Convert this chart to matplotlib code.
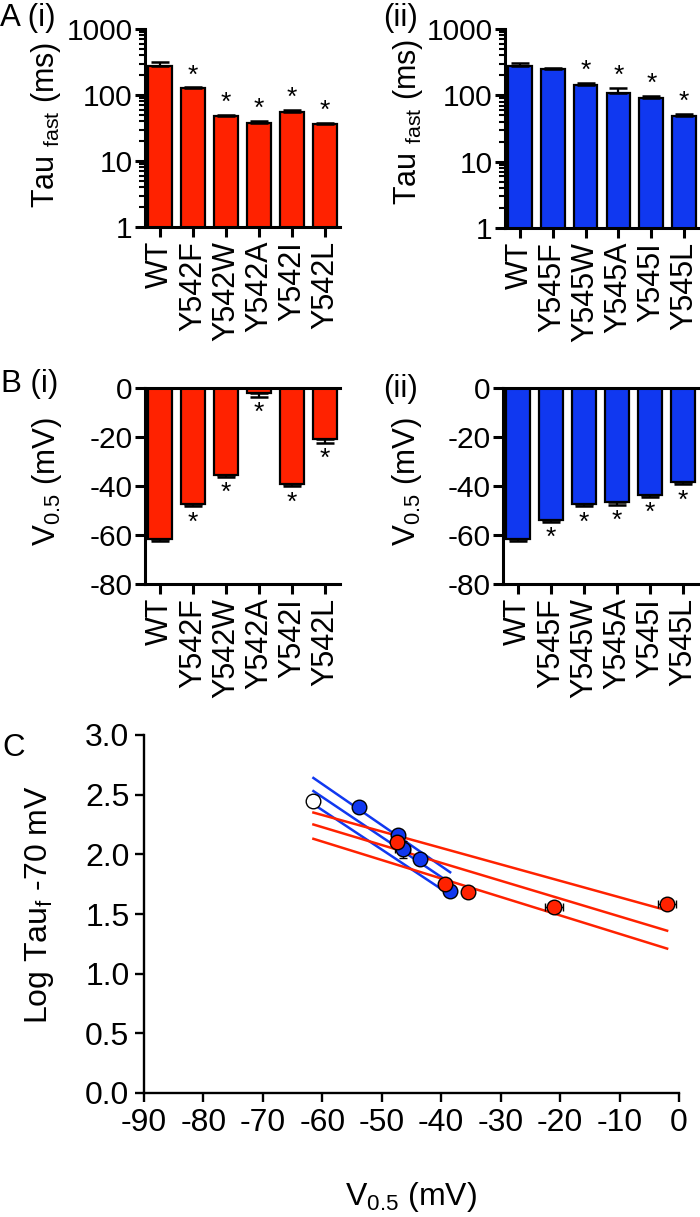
import numpy as np
import matplotlib
matplotlib.use('Agg')
import matplotlib.pyplot as plt

plt.rcParams['font.family'] = ['Liberation Sans', 'DejaVu Sans']
plt.rcParams['mathtext.fontset'] = 'custom'
plt.rcParams['mathtext.rm'] = 'Liberation Sans'
plt.rcParams['mathtext.it'] = 'Liberation Sans:italic'
plt.rcParams['mathtext.default'] = 'regular'
plt.rcParams['axes.unicode_minus'] = False

# ---------------- data ----------------
red_labels = ['WT', 'Y542F', 'Y542W', 'Y542A', 'Y542I', 'Y542L']
blue_labels = ['WT', 'Y545F', 'Y545W', 'Y545A', 'Y545I', 'Y545L']

red_tau = [278, 126, 48, 38, 56, 36]
red_tau_err = [40, 4, 2, 2, 3, 2]
blue_tau = [278, 248, 145, 110, 92, 49]
blue_tau_err = [30, 10, 10, 20, 5, 4]
red_tau_sig = [0, 1, 1, 1, 1, 1]
blue_tau_sig = [0, 0, 1, 1, 1, 1]

red_v05 = [-61.5, -47.5, -35.5, -2.0, -39.3, -21.0]
red_v05_err = [0.8, 0.8, 0.8, 1.5, 0.8, 1.5]
blue_v05 = [-61.5, -53.8, -47.3, -46.5, -43.5, -38.5]
blue_v05_err = [0.8, 0.8, 1.0, 1.2, 0.8, 0.8]
red_v05_sig = [0, 1, 1, 1, 1, 1]
blue_v05_sig = [0, 1, 1, 1, 1, 1]

# regression line and band values (at min / max V0.5)
red_fit_upper = [2.35, 1.53]
red_fit_mid = [2.25, 1.36]
red_fit_lower = [2.13, 1.21]
blue_fit_upper = [2.64, 1.85]
blue_fit_mid = [2.53, 1.76]
blue_fit_lower = [2.42, 1.66]

RED = '#FF2200'
BLUE = '#1038F0'

W, H = 700, 1217
fig = plt.figure(figsize=(W / 100, H / 100), dpi=100)


def rect(l, t, r, b):
    return [l / W, 1 - b / H, (r - l) / W, (b - t) / H]


SPW = 2.2
FS_TICK = 21.5
FS_CAT = 22
FS_LAB = 22.5
FS_C = 23


def style_bar_axes(ax):
    for s in ['top', 'right']:
        ax.spines[s].set_visible(False)
    for s in ['left', 'bottom']:
        ax.spines[s].set_linewidth(SPW)
    ax.tick_params(axis='both', which='major', length=7, width=SPW, labelsize=FS_TICK, pad=2)
    ax.tick_params(axis='x', labelsize=FS_CAT, pad=3)
    ax.tick_params(axis='y', which='minor', length=4, width=1.5)


def bar_panel(ax, labels, vals, errs, sig, color, log):
    x = np.arange(len(labels))
    vals = np.array(vals, float)
    errs = np.array(errs, float)
    ax.bar(x, vals, width=0.72, color=color, edgecolor='black', linewidth=1.6, zorder=2)
    zeros = np.zeros_like(errs)
    if log:
        yerr = [zeros, errs]
    else:
        yerr = [errs, zeros]
    ax.errorbar(x, vals, yerr=yerr, fmt='none', ecolor='black', elinewidth=1.6,
                capsize=6.5, capthick=1.8, zorder=3)
    for xi, v, e, s in zip(x, vals, errs, sig):
        if not s:
            continue
        if log:
            ax.annotate('*', (xi, v + e), xytext=(0, 0), textcoords='offset points',
                        ha='center', va='bottom', fontsize=19)
        else:
            ax.annotate('*', (xi, v - e), xytext=(0, -3), textcoords='offset points',
                        ha='center', va='top', fontsize=19)
    ax.set_xlim(-0.45, len(labels) - 0.55)
    ax.set_xticks(x)
    ax.set_xticklabels(labels, rotation=90)
    style_bar_axes(ax)
    if log:
        ax.set_yscale('log')
        ax.set_ylim(1, 1000)
        ax.set_yticks([1, 10, 100, 1000])
        ax.set_yticklabels(['1', '10', '100', '1000'])
    else:
        ax.set_ylim(-80, 0)
        ax.set_yticks([0, -20, -40, -60, -80])
        ax.set_yticklabels(['0', '-20', '-40', '-60', '-80'])
        ax.axhline(0, color='black', lw=SPW, clip_on=False, zorder=4)


axA1 = fig.add_axes(rect(145, 29, 340, 227))
axA2 = fig.add_axes(rect(505, 29, 699, 228))
axB1 = fig.add_axes(rect(145, 388, 340, 584))
axB2 = fig.add_axes(rect(503, 388, 698, 584))
axC = fig.add_axes(rect(144, 735, 679, 1093))

bar_panel(axA1, red_labels, red_tau, red_tau_err, red_tau_sig, RED, True)
bar_panel(axA2, blue_labels, blue_tau, blue_tau_err, blue_tau_sig, BLUE, True)
bar_panel(axB1, red_labels, red_v05, red_v05_err, red_v05_sig, RED, False)
bar_panel(axB2, blue_labels, blue_v05, blue_v05_err, blue_v05_sig, BLUE, False)


def ftext(px, py, s, **kw):
    fig.text(px / W, 1 - py / H, s, **kw)


# panel labels
ftext(0, 26, 'A (i)', fontsize=FS_LAB, ha='left', va='baseline')
ftext(383, 26, '(ii)', fontsize=FS_LAB, ha='left', va='baseline')
ftext(1, 392, 'B (i)', fontsize=FS_LAB, ha='left', va='baseline')
ftext(383, 397, '(ii)', fontsize=FS_LAB, ha='left', va='baseline')
ftext(2, 756, 'C', fontsize=FS_LAB, ha='left', va='baseline')

# y labels
tau_lab = r'Tau$\ _{fast}$ (ms)'
v_lab = r'V$_{0.5}$ (mV)'
ftext(46, 125, tau_lab, fontsize=22, rotation=90, ha='center', va='center')
ftext(408, 122, tau_lab, fontsize=22, rotation=90, ha='center', va='center')
ftext(47, 482, v_lab, fontsize=FS_LAB, rotation=90, ha='center', va='center')
ftext(407, 482, v_lab, fontsize=FS_LAB, rotation=90, ha='center', va='center')

# ---------------- panel C ----------------
red_logtau = np.log10(red_tau)
blue_logtau = np.log10(blue_tau)
red_logtau_err = np.log10(np.array(red_tau) + np.array(red_tau_err)) - red_logtau
blue_logtau_err = np.log10(np.array(blue_tau) + np.array(blue_tau_err)) - blue_logtau

rx = [min(red_v05), max(red_v05)]
bx = [min(blue_v05), max(blue_v05)]
for yy in (blue_fit_upper, blue_fit_mid, blue_fit_lower):
    axC.plot(bx, yy, color=BLUE, lw=1.8, zorder=2)
for yy in (red_fit_upper, red_fit_mid, red_fit_lower):
    axC.plot(rx, yy, color=RED, lw=1.8, zorder=2)

axC.errorbar(blue_v05[1:], blue_logtau[1:], xerr=blue_v05_err[1:], yerr=blue_logtau_err[1:],
             fmt='none', ecolor='black', elinewidth=1, capsize=3, zorder=3)
axC.plot(blue_v05[1:], blue_logtau[1:], 'o', ms=10.5, mfc=BLUE, mec='black', mew=1, zorder=4)
axC.errorbar(red_v05[1:], red_logtau[1:], xerr=red_v05_err[1:], yerr=red_logtau_err[1:],
             fmt='none', ecolor='black', elinewidth=1, capsize=3, zorder=5)
axC.plot(red_v05[1:], red_logtau[1:], 'o', ms=10.5, mfc=RED, mec='black', mew=1, zorder=6)
axC.plot([red_v05[0]], [red_logtau[0]], 'o', ms=10.5, mfc='white', mec='black', mew=1, zorder=7)

axC.set_xlim(-90, 0)
axC.set_ylim(0, 3)
axC.set_xticks(np.arange(-90, 1, 10))
axC.set_xticklabels([str(v) for v in range(-90, 1, 10)])
axC.set_yticks(np.arange(0, 3.01, 0.5))
axC.set_yticklabels(['%.1f' % v for v in np.arange(0, 3.01, 0.5)])
for s in ['top', 'right']:
    axC.spines[s].set_visible(False)
for s in ['left', 'bottom']:
    axC.spines[s].set_linewidth(1.7)
axC.tick_params(axis='both', length=6.5, width=1.7, labelsize=FS_C, pad=4)

ftext(411, 1205, r'V$_{0.5}$ (mV)', fontsize=FS_C, ha='center', va='baseline')
ftext(40, 905, r'Log Tau$_f$ -70 mV', fontsize=FS_C, rotation=90, ha='center', va='center')

fig.savefig('out.png', dpi=100)
